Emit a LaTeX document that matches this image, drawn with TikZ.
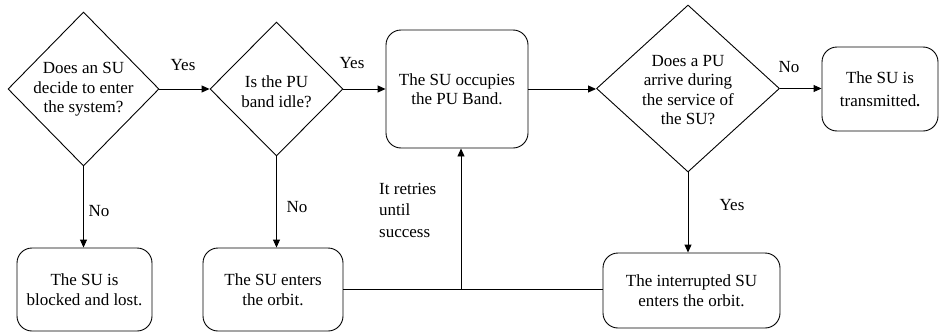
\documentclass[tikz,border=0pt]{standalone}
\usepackage{fontspec}
\setmainfont{Liberation Serif}
\newfontfamily\tnrfont{Liberation Serif}
\usetikzlibrary{shapes.geometric,arrows.meta}
\begin{document}
\begin{tikzpicture}[x=1pt,y=-1pt,
  every node/.style={font=\tnrfont\fontsize{17}{19.5}\selectfont},
  dia/.style={diamond,draw,line width=0.9pt,inner sep=0pt},
  txt/.style={align=center,inner sep=0pt},
  rbox/.style={draw,line width=0.9pt,rectangle,rounded corners=15pt,align=center,inner sep=0pt},
  conn/.style={line width=0.9pt,-{Triangle[length=8pt,width=7pt]}},
  plain/.style={line width=0.9pt},
  lbl/.style={inner sep=0pt}]
\useasboundingbox (0,0) rectangle (941,332);
% diamonds
\node[dia,minimum width=151pt,minimum height=154pt] (d1) at (83.5,89) {};
\node[txt] (d1t) at (83.5,89.5) {Does an SU\\decide to enter\\the system?};
\node[dia,minimum width=133pt,minimum height=134pt] (d2) at (276.5,89) {};
\node[txt] (d2t) at (276.5,91.5) {Is the PU\\band idle?};
\node[dia,minimum width=183pt,minimum height=167pt] (d3) at (688,88.5) {};
\node[txt] (d3t) at (688,90) {Does a PU\\arrive during\\the service of\\the SU?};
% boxes
\node[rbox,minimum width=142pt,minimum height=118pt] (occ) at (457,89) {The SU occupies\\the PU Band.};
\node[rbox,minimum width=116pt,minimum height=84pt] (trans) at (880,89) {The SU is\\[3pt]transmitted\textbf{\Large .}};
\node[rbox,minimum width=135pt,minimum height=83pt] (b1) at (84.5,289.5) {The SU is\\blocked and lost.};
\node[rbox,minimum width=140pt,minimum height=83pt] (b2) at (273,289.5) {The SU enters\\the orbit.};
\node[rbox,minimum width=177pt,minimum height=75pt] (b3) at (691.5,290.5) {The interrupted SU\\enters the orbit.};
% connectors
\draw[conn] (d1.east) -- (d2.west);
\draw[conn] (d2.east) -- (occ.west |- d2.east);
\draw[conn] (occ.east) -- (d3.west |- occ.east);
\draw[conn] (d3.east) -- (trans.west |- d3.east);
\draw[conn] (d1.south) -- (d1.south |- b1.north);
\draw[conn] (d2.south) -- (d2.south |- b2.north);
\draw[conn] (d3.south) -- (d3.south |- b3.north);
\coordinate (j) at (461,289.5);
\draw[plain] (b2.east |- j) -- (b3.west |- j);
\draw[conn] (j) -- (j |- occ.south);
% labels
\node[lbl] (y1) at (183,65) {Yes};
\node[lbl] (y2) at (352,63) {Yes};
\node[lbl] (n3) at (789,67) {No};
\node[lbl] (n1) at (99,211) {No};
\node[lbl] (n2) at (297,207) {No};
\node[lbl] (y3) at (732,205) {Yes};
\node[lbl,align=left,anchor=west,font=\tnrfont\fontsize{17}{21.5}\selectfont] (retry) at (379,210) {It retries\\until\\success};
\end{tikzpicture}
\end{document}
